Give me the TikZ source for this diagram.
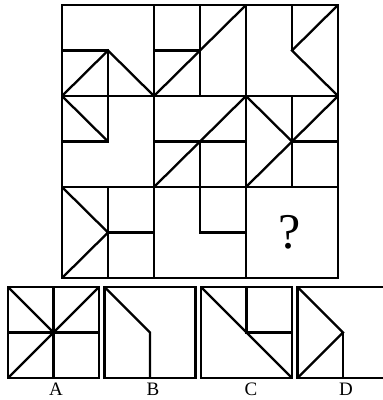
\documentclass[tikz,border=0pt]{standalone}
\usepackage{fontspec}
\setmainfont{Liberation Serif}
\usetikzlibrary{positioning}

\begin{document}
\begin{tikzpicture}[
  x=1pt, y=-1pt,
  frame/.style={draw, line width=2.8pt},
  seg/.style={draw, line width=2.3pt},
  optbox/.style={draw, line width=2.6pt},
  lbl/.style={font=\fontsize{19}{19}\selectfont, inner sep=0pt}
]

% canvas
\useasboundingbox (0,0) rectangle (383,400);
\clip (0,0) rectangle (383,400);

% Main grid
\draw[frame] (62,5) rectangle (338,278);
\draw[seg] (154,5) -- (154,278);
\draw[seg] (246,5) -- (246,278);
\draw[seg] (62,96) -- (338,96);
\draw[seg] (62,187) -- (338,187);

% Row 1
\begin{scope}[shift={(62,5)}]
  \draw[seg] (0,45.5) -- (46,45.5) -- (46,91);
  \draw[seg] (0,91) -- (46,45.5) -- (92,91);
\end{scope}
\begin{scope}[shift={(154,5)}]
  \draw[seg] (46,0) -- (46,91);
  \draw[seg] (0,45.5) -- (46,45.5);
  \draw[seg] (0,91) -- (92,0);
\end{scope}
\begin{scope}[shift={(246,5)}]
  \draw[seg] (46,0) -- (46,45.5);
  \draw[seg] (92,0) -- (46,45.5) -- (92,91);
\end{scope}

% Row 2
\begin{scope}[shift={(62,96)}]
  \draw[seg] (46,0) -- (46,45.5) -- (0,45.5);
  \draw[seg] (0,0) -- (46,45.5);
\end{scope}
\begin{scope}[shift={(154,96)}]
  \draw[seg] (0,45.5) -- (92,45.5);
  \draw[seg] (46,45.5) -- (46,91);
  \draw[seg] (0,91) -- (92,0);
\end{scope}
\begin{scope}[shift={(246,96)}]
  \draw[seg] (46,0) -- (46,91);
  \draw[seg] (46,45.5) -- (92,45.5);
  \draw[seg] (0,0) -- (46,45.5);
  \draw[seg] (0,91) -- (92,0);
\end{scope}

% Row 3
\begin{scope}[shift={(62,187)}]
  \draw[seg] (46,0) -- (46,91);
  \draw[seg] (46,45.5) -- (92,45.5);
  \draw[seg] (0,0) -- (46,45.5) -- (0,91);
\end{scope}
\begin{scope}[shift={(154,187)}]
  \draw[seg] (46,0) -- (46,45.5) -- (92,45.5);
\end{scope}
\node[font=\fontsize{50}{50}\selectfont, inner sep=0pt] (quest) at (290,232) {?};

% Options
\begin{scope}[shift={(8,287)}]
  \draw[optbox] (0,0) rectangle (91,91);
  \draw[seg] (45.5,0) -- (45.5,91);
  \draw[seg] (0,45.5) -- (91,45.5);
  \draw[seg] (0,0) -- (45.5,45.5);
  \draw[seg] (0,91) -- (91,0);
\end{scope}
\begin{scope}[shift={(104.5,287)}]
  \draw[optbox] (0,0) rectangle (91,91);
  \draw[seg] (0,0) -- (45.5,45.5) -- (45.5,91);
\end{scope}
\begin{scope}[shift={(201,287)}]
  \draw[optbox] (0,0) rectangle (91,91);
  \draw[seg] (0,0) -- (91,91);
  \draw[seg] (45.5,0) -- (45.5,45.5) -- (91,45.5);
\end{scope}
\begin{scope}[shift={(297.5,287)}]
  \draw[optbox] (0,0) rectangle (91,91);
  \draw[seg] (0,0) -- (45.5,45.5) -- (0,91);
  \draw[seg] (45.5,45.5) -- (45.5,91);
\end{scope}

% Labels
\node[lbl] (labA) at (56,389.5) {A};
\node[lbl] (labB) at (153,389.5) {B};
\node[lbl] (labC) at (251,389.5) {C};
\node[lbl] (labD) at (346,389.5) {D};

\end{tikzpicture}
\end{document}
